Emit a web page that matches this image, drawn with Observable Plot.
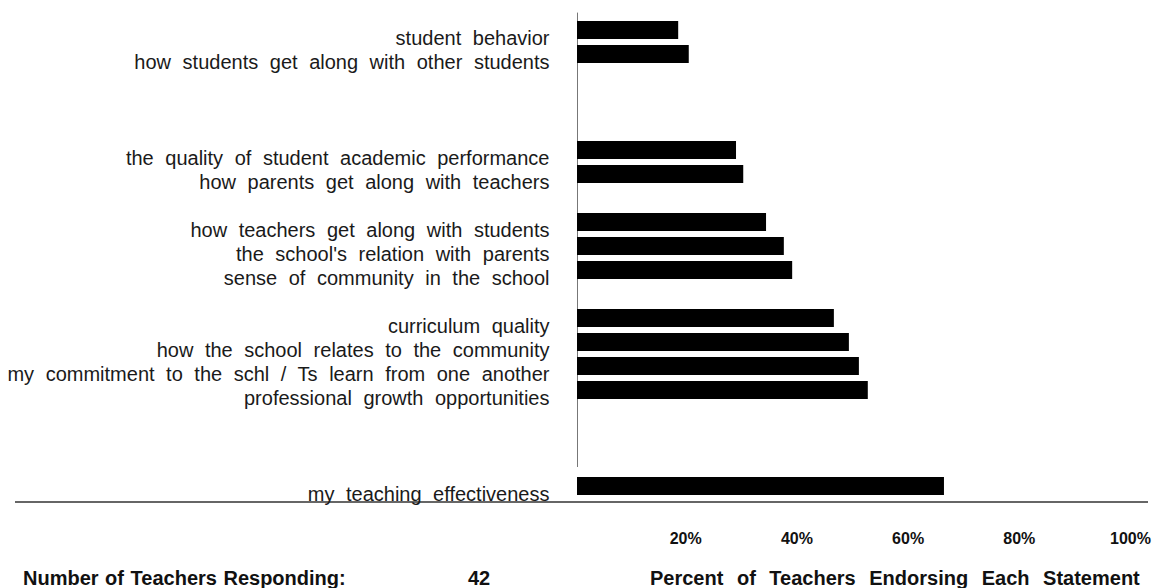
<!DOCTYPE html>
<html>
<head>
<meta charset="utf-8">
<script src="https://cdn.jsdelivr.net/npm/d3@7"></script>
<script src="https://cdn.jsdelivr.net/npm/@observablehq/plot@0.6"></script>
<style>
  html, body { margin: 0; padding: 0; background: #fff; }
  #chart { position: relative; width: 1152px; height: 588px; font-family: "Liberation Sans", Arial, Helvetica, sans-serif; }
  #chart svg g[aria-label="y-axis tick label"] text { word-spacing: 6px; }
  .cap { position: absolute; top: 568px; font-size: 20px; line-height: 20px; font-weight: bold; color: #111; white-space: nowrap; }
</style>
</head>
<body>
<div id="chart"></div>
<script>
// Statements (top to bottom) and percent of teachers endorsing each
const categories = [
  "student behavior",
  "how students get along with other students",
  "the quality of student academic performance",
  "how parents get along with teachers",
  "how teachers get along with students",
  "the school's relation with parents",
  "sense of community in the school",
  "curriculum quality",
  "how the school relates to the community",
  "my commitment to the schl / Ts learn from one another",
  "professional growth opportunities",
  "my teaching effectiveness"
];
const values = [18.2, 20.1, 28.6, 29.9, 34.0, 37.2, 38.7, 46.2, 48.9, 50.7, 52.3, 66.0];

// Row order including the empty slots between groups
const rowOrder = [
  categories[0], categories[1], "gap1", "gap2", "gap3",
  categories[2], categories[3], "gap4",
  categories[4], categories[5], categories[6], "gap5",
  categories[7], categories[8], categories[9], categories[10], "gap6", "gap7", "gap8",
  categories[11]
];

const xTicks = [20, 40, 60, 80, 100];
const respondents = 42;
const captionLeft = "Number of Teachers Responding:";
const captionRight = "Percent of Teachers Endorsing Each Statement";

const data = categories.map((label, i) => ({label, value: values[i]}));

const chart = Plot.plot({
  width: 1152,
  height: 560,
  marginLeft: 577,
  marginRight: 19,
  marginTop: 6.6,
  marginBottom: 50,
  style: {fontFamily: "'Liberation Sans', Arial, Helvetica, sans-serif", background: "#fff", color: "#111"},
  x: {domain: [0, 100], axis: null},
  y: {domain: rowOrder, padding: 0.24, axis: null},
  marks: [
    Plot.ruleX([0], {stroke: "#777", strokeWidth: 1, insetTop: 6, insetBottom: 43}),
    Plot.barX(data, {x: "value", y: "label", fill: "#000"}),
    Plot.ruleY([categories[categories.length - 1]], {dy: 15.5, stroke: "#333", strokeWidth: 1.3, insetLeft: -562, insetRight: -15}),
    Plot.axisY({ticks: categories, tickSize: 0, tickPadding: 28, dy: 8, fontSize: 20, fill: "#1a1a1a", label: null}),
    Plot.axisX({ticks: xTicks, tickFormat: d => `${d}%`, tickSize: 0, tickPadding: 22, dx: -3, fontSize: 16, fontWeight: "bold", fill: "#111", label: null})
  ]
});

const root = document.getElementById("chart");
root.appendChild(chart);

const c1 = document.createElement("div");
c1.className = "cap";
c1.style.left = "23px";
c1.style.wordSpacing = "1px";
c1.textContent = captionLeft;
root.appendChild(c1);

const c2 = document.createElement("div");
c2.className = "cap";
c2.style.left = "468px";
c2.textContent = String(respondents);
root.appendChild(c2);

const c3 = document.createElement("div");
c3.className = "cap";
c3.style.left = "650px";
c3.style.wordSpacing = "8px";
c3.textContent = captionRight;
root.appendChild(c3);
</script>
</body>
</html>
